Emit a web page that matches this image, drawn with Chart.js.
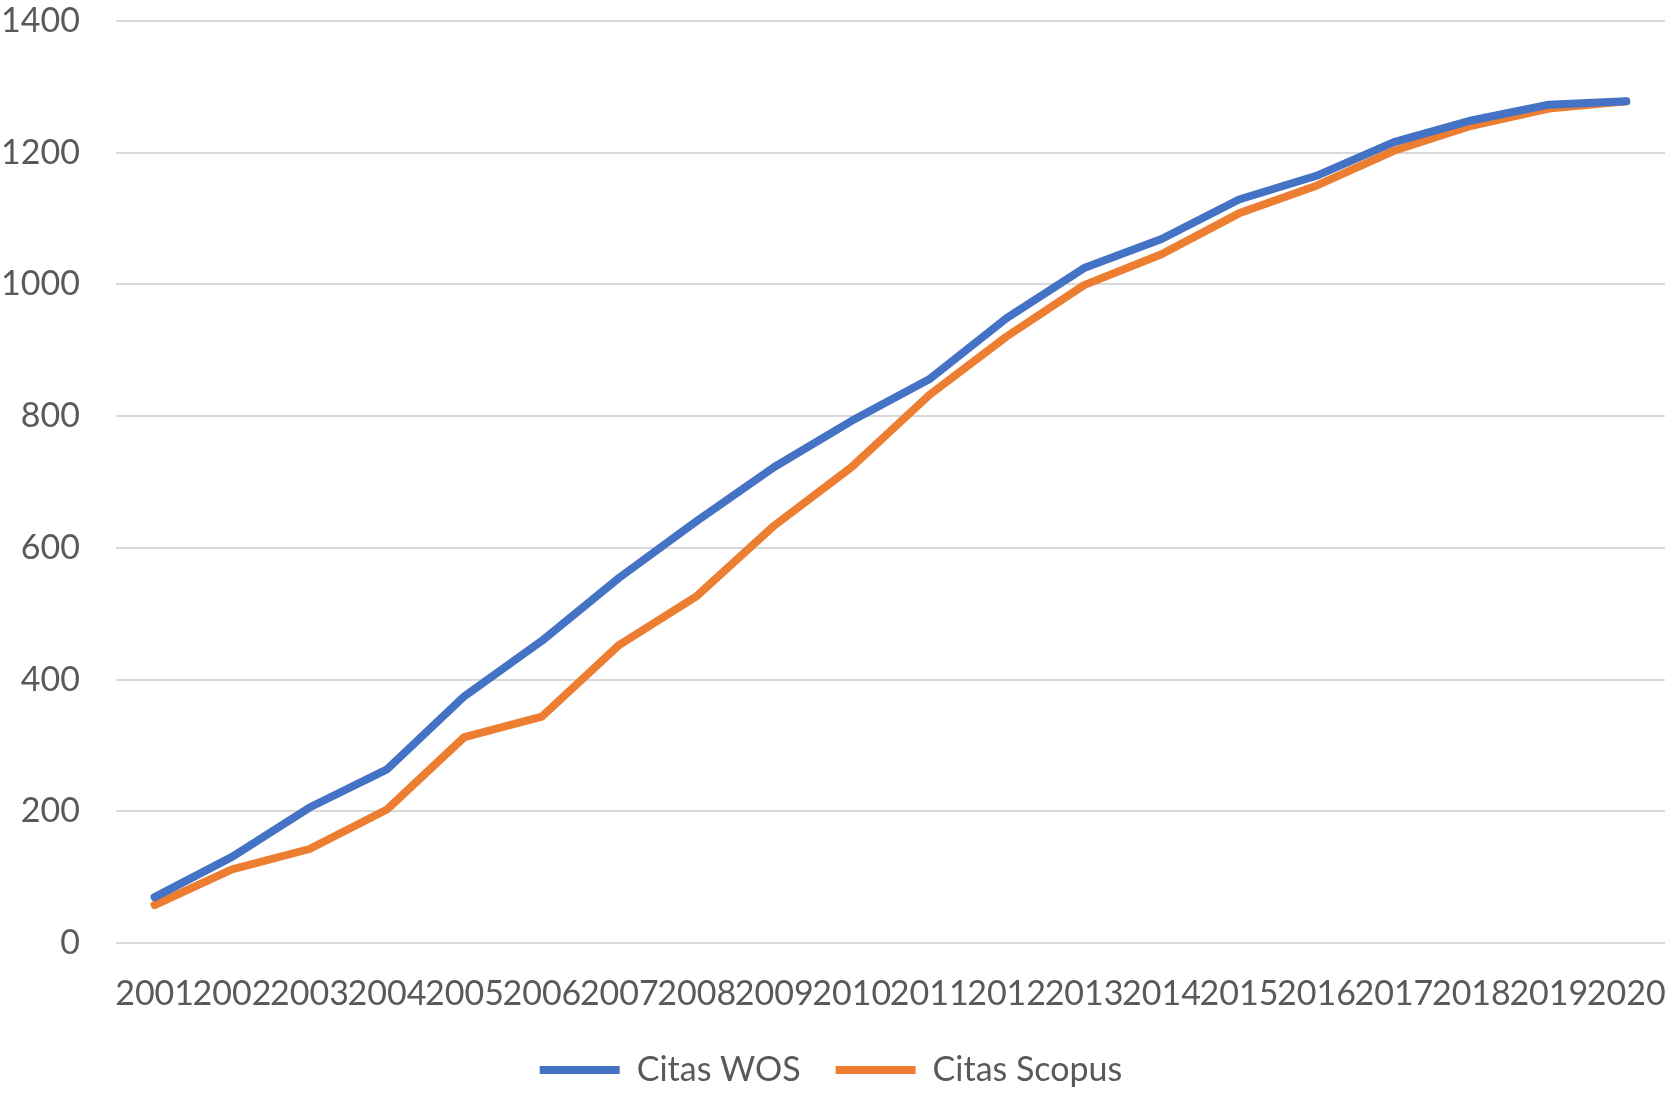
<!DOCTYPE html>
<html>
<head>
<meta charset="utf-8">
<script src="https://cdn.jsdelivr.net/npm/chart.js@4/dist/chart.umd.min.js"></script>
<style>
  html, body { margin: 0; padding: 0; background: #fff; }
  #wrap { width: 1675px; height: 1101px; }
</style>
</head>
<body>
<div id="wrap"><canvas id="chart" width="1675" height="1101"></canvas></div>
<script>
// years on the x axis
const years = ['2001', '2002', '2003', '2004', '2005', '2006', '2007', '2008', '2009', '2010',
  '2011', '2012', '2013', '2014', '2015', '2016', '2017', '2018', '2019', '2020'];

// cumulative citations
const citasWos = [70, 131, 206, 264, 375, 459, 555, 641, 723, 793,
  856, 949, 1025, 1069, 1129, 1165, 1216, 1249, 1273, 1278];
const citasScopus = [58, 112, 143, 203, 313, 344, 453, 527, 634, 723,
  832, 921, 999, 1046, 1108, 1150, 1203, 1241, 1267, 1278];

const yTicks = [0, 200, 400, 600, 800, 1000, 1200, 1400];

const BLUE = '#4472C4';
const ORANGE = '#ED7D31';
const TEXT = '#595959';
const FONT = 'Lato, "Open Sans", sans-serif';
const FONT_SIZE = 34;

function lineSet(label, data, color) {
  return {
    label,
    data,
    borderColor: color,
    backgroundColor: color,
    borderWidth: 8,
    borderCapStyle: 'round',
    borderJoinStyle: 'round',
    pointRadius: 0,
    pointHoverRadius: 0,
    tension: 0,
    fill: false,
    pointStyle: 'line'
  };
}

new Chart(document.getElementById('chart').getContext('2d'), {
  type: 'line',
  data: {
    labels: years,
    datasets: [
      lineSet('Citas WOS', citasWos, BLUE),
      lineSet('Citas Scopus', citasScopus, ORANGE)
    ]
  },
  options: {
    responsive: false,
    animation: false,
    layout: {
      padding: { left: -3, right: 10, top: 0, bottom: 4 }
    },
    plugins: {
      title: { display: false },
      tooltip: { enabled: false },
      legend: {
        position: 'bottom',
        labels: {
          color: TEXT,
          font: { family: FONT, size: FONT_SIZE },
          usePointStyle: true,
          pointStyleWidth: 80,
          boxHeight: 8,
          padding: 35
        }
      }
    },
    scales: {
      x: {
        offset: true,
        // invisible tick marks keep the gap between axis and labels
        grid: { display: true, color: 'rgba(0,0,0,0)', drawOnChartArea: false, drawTicks: true, tickLength: 26, tickColor: 'rgba(0,0,0,0)' },
        border: { display: false },
        ticks: {
          color: TEXT,
          font: { family: FONT, size: FONT_SIZE },
          autoSkip: false,
          maxRotation: 0,
          minRotation: 0,
          padding: 4
        }
      },
      y: {
        min: 0,
        max: 1400,
        afterBuildTicks: axis => { axis.ticks = yTicks.map(v => ({ value: v })); },
        grid: { color: '#D9D9D9', lineWidth: 2, drawTicks: true, tickLength: 32, tickColor: 'rgba(0,0,0,0)' },
        border: { display: false },
        ticks: {
          color: TEXT,
          font: { family: FONT, size: FONT_SIZE, lineHeight: 1.0 },
          padding: 4,
          callback: v => String(v)
        }
      }
    }
  }
});
</script>
</body>
</html>
